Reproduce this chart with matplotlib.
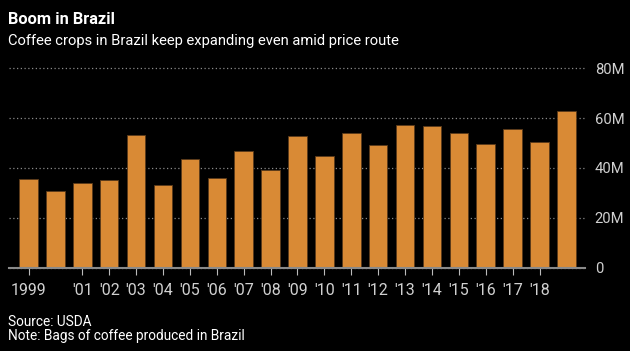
import matplotlib
matplotlib.use("Agg")
import matplotlib.pyplot as plt

years = list(range(1999, 2020))
production_m = [35.4, 30.7, 33.8, 35.0, 53.4, 33.0, 43.4, 35.8, 46.6, 39.0, 53.0,
                44.6, 54.2, 49.0, 57.4, 57.0, 54.2, 49.4, 55.8, 50.6, 63.0]
tick_years = [1999] + list(range(2001, 2019))
tick_labels = ["1999"] + ["'%02d" % (y % 100) for y in range(2001, 2019)]
y_ticks = [0, 20, 40, 60, 80]
y_labels = ["0", "20M", "40M", "60M", "80M"]

plt.rcParams['font.family'] = ['Roboto', 'DejaVu Sans']

fig = plt.figure(figsize=(6.3, 3.51), dpi=100, facecolor='black')
ax = fig.add_axes([9/630, (351-267.5)/351, (585-9)/630, (267.5-68.3)/351])
ax.set_facecolor('black')

x = [y - 1999 for y in years]
ax.bar(x, production_m, width=0.69, color='#d98a35', edgecolor='#5a3a1a', linewidth=0.6, zorder=3)

ax.set_xlim(-0.725, 20.69)
ax.set_ylim(0, 80)
ax.set_xticks([y - 1999 for y in tick_years])
ax.set_xticklabels(tick_labels)
ax.set_yticks(y_ticks)
ax.set_yticklabels(y_labels)
ax.yaxis.tick_right()
ax.tick_params(axis='y', length=0, pad=7, labelcolor='#d0d0d0', labelsize=10.6)
ax.tick_params(axis='x', length=5, width=0.8, color='#bbbbbb', pad=6, labelcolor='#d0d0d0', labelsize=11.5)
for s in ['top', 'left', 'right']:
    ax.spines[s].set_visible(False)
ax.spines['bottom'].set_color('#8a8a8a')
ax.spines['bottom'].set_linewidth(1.5)
ax.spines['bottom'].set_zorder(4)
ax.grid(axis='y', color='#8a8a8a', linestyle=(0, (1, 2)), linewidth=0.9, zorder=1)
ax.grid(axis='x', visible=False)
for gl in ax.get_ygridlines():
    gl.set_clip_on(False)

fig.text(8/630, 1 - 19/351, "Boom in Brazil", color='white', fontsize=11.8, fontweight='bold', va='center', ha='left')
fig.text(8/630, 1 - 41/351, "Coffee crops in Brazil keep expanding even amid price route", color='white', fontsize=10.6, va='center', ha='left')
fig.text(8/630, 1 - 322/351, "Source: USDA", color='white', fontsize=9.8, va='center', ha='left')
fig.text(8/630, 1 - 336/351, "Note: Bags of coffee produced in Brazil", color='white', fontsize=9.8, va='center', ha='left')

fig.savefig("out.png", dpi=100, facecolor='black')
